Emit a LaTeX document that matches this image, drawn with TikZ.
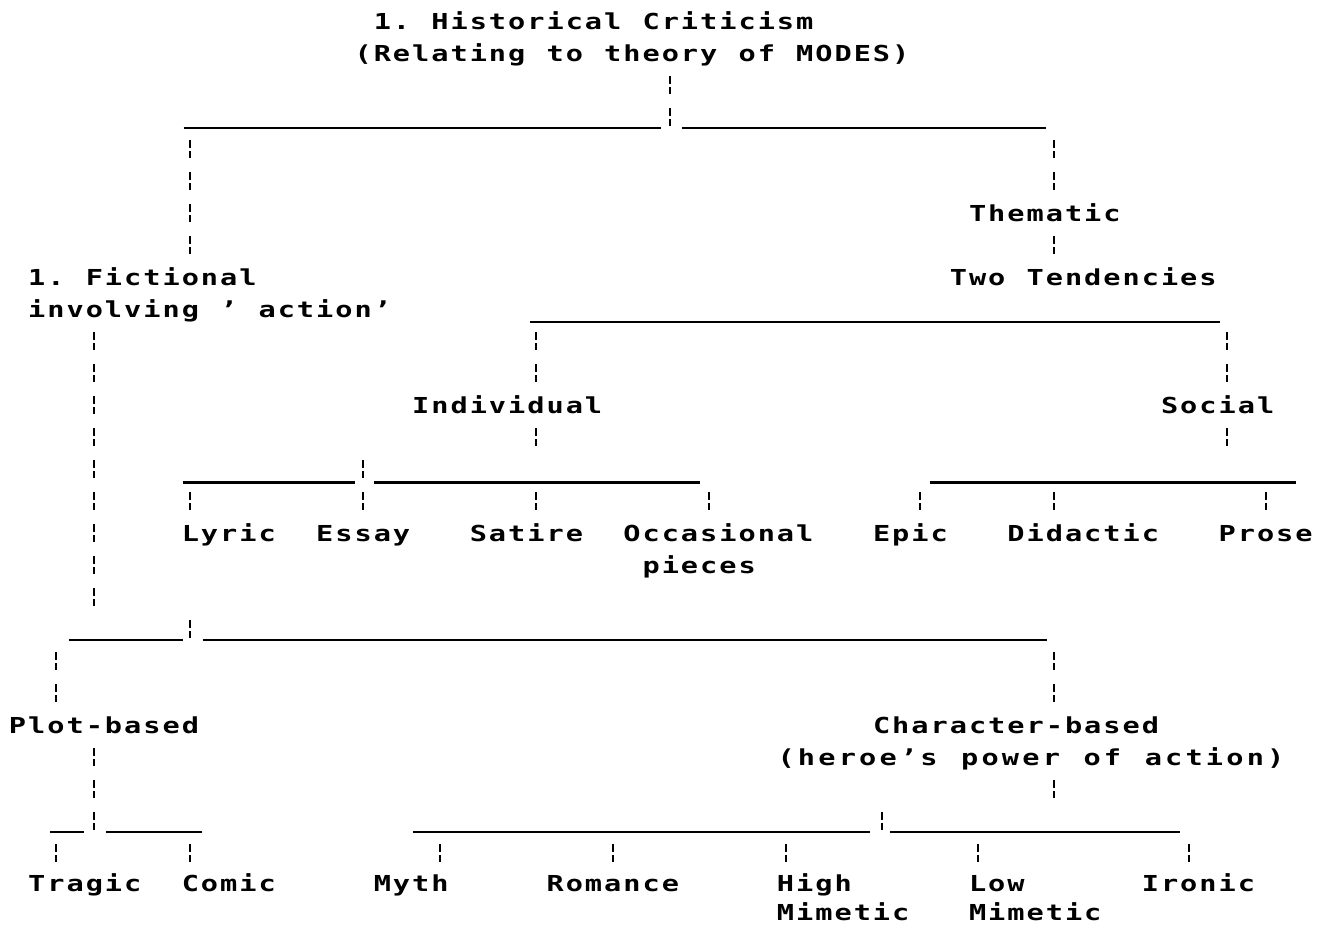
\documentclass[tikz,border=0pt]{standalone}
\usepackage{graphicx}
\usepackage{fontspec}
\newfontfamily\dotfont{DejaVu Sans Mono}
\ExplSyntaxOn
\NewDocumentCommand\dottext{O{19.2pt}m}{\str_map_inline:nn{#2}{\makebox[#1][c]{\scalebox{1.3}[1]{##1}}}}
\ExplSyntaxOff
% vertical "!" marks: name, column, first row, last row
\newcommand\dotbang[4]{%
  \coordinate (#1a) at (#2+0.5,#3-0.28);
  \coordinate (#1b) at (#2+0.5,#4+0.28);
  \draw[bangline] (#1a) -- (#1b);}
% underscore rules: name, x1, x2, y
\newcommand\dotrule[4]{%
  \coordinate (#1a) at (#2,#4);
  \coordinate (#1b) at (#3,#4);
  \draw[ruleline] (#1a) -- (#1b);}
\begin{document}
\begin{tikzpicture}[x=19.2pt,y=-32pt,
  lbl/.style={inner sep=0pt, outer sep=0pt, anchor=base west, font=\fontsize{22pt}{26pt}\dotfont\bfseries},
  bangline/.style={line width=2pt, dash pattern=on 8pt off 3pt on 7pt off 14pt},
  ruleline/.style={line width=2.2pt}]
\path[use as bounding box, fill=white] (-0.416667,-0.65625) rectangle (68.59375,28.3125);

% ---- text ----
\node[lbl] (title)  at (19,0.25) {\dottext{1. Historical Criticism}};
\node[lbl] (title2) at (18,1.25) {\dottext{(Relating to theory of MODES)}};
\node[lbl] (them)   at (50,6.25) {\dottext{Thematic}};
\node[lbl] (two)    at (49,8.25) {\dottext{Two Tendencies}};
\node[lbl] (fict)   at (1,8.25)  {\dottext{1. Fictional}};
\node[lbl] (fict2)  at (1,9.25)  {\dottext{involving ’ action’}};
\node[lbl] (indiv)  at (21,12.25) {\dottext{Individual}};
\node[lbl] (social) at (60,12.25) {\dottext{Social}};
\node[lbl] (lyric)  at (9,16.25)  {\dottext{Lyric}};
\node[lbl] (essay)  at (16,16.25) {\dottext{Essay}};
\node[lbl] (satire) at (24,16.25) {\dottext{Satire}};
\node[lbl] (occ)    at (32,16.25) {\dottext{Occasional}};
\node[lbl] (occ2)   at (33,17.25) {\dottext{pieces}};
\node[lbl] (epic)   at (45,16.25) {\dottext{Epic}};
\node[lbl] (didac)  at (52,16.25) {\dottext{Didactic}};
\node[lbl] (prose)  at (63,16.25) {\dottext{Prose}};
\node[lbl] (plot)   at (0,22.25)  {\dottext{Plot-based}};
\node[lbl] (char)   at (45,22.25) {\dottext{Character-based}};
\node[lbl] (char2)  at (40,23.25) {\dottext[20.4pt]{(heroe’s power of action)}};
\node[lbl] (tragic) at (1,27.2)  {\dottext{Tragic}};
\node[lbl] (comic)  at (9,27.2)  {\dottext{Comic}};
\node[lbl] (myth)   at (19,27.2) {\dottext{Myth}};
\node[lbl] (romance) at (28,27.2) {\dottext{Romance}};
\node[lbl] (high)   at (40,27.2) {\dottext{High}};
\node[lbl] (high2)  at (40,28.1) {\dottext{Mimetic}};
\node[lbl] (low)    at (50,27.2) {\dottext{Low}};
\node[lbl] (low2)   at (50,28.1) {\dottext{Mimetic}};
\node[lbl] (ironic) at (59,27.2) {\dottext{Ironic}};

% ---- underscore rules ----
\dotrule{ra}{9.15}{34.0}{3.34}
\dotrule{rb}{35.1}{54.05}{3.34}
\dotrule{rc}{27.2}{63.1}{9.40}
\dotrule{rd}{9.1}{18.05}{14.42}
\dotrule{re}{19.05}{36.05}{14.42}
\dotrule{rf}{48.0}{67.1}{14.42}
\dotrule{rg}{3.2}{9.1}{19.34}
\dotrule{rh}{10.15}{54.1}{19.34}
\dotrule{ri}{2.2}{3.95}{25.34}
\dotrule{rj}{5.1}{10.1}{25.34}
\dotrule{rk}{21.1}{44.9}{25.34}
\dotrule{rl}{45.95}{61.05}{25.34}

% ---- vertical marks ----
\dotbang{va}{34}{2}{3}
\dotbang{vb}{9}{4}{7}
\dotbang{vc}{54}{4}{5}
\dotbang{vd}{54}{7}{7}
\dotbang{ve}{4}{10}{18}
\dotbang{vf}{27}{10}{11}
\dotbang{vg}{63}{10}{11}
\dotbang{vh}{27}{13}{13}
\dotbang{vi}{63}{13}{13}
\dotbang{vj}{18}{14}{15}
\dotbang{vk}{9}{15}{15}
\dotbang{vl}{27}{15}{15}
\dotbang{vm}{36}{15}{15}
\dotbang{vn}{47}{15}{15}
\dotbang{vo}{54}{15}{15}
\dotbang{vp}{65}{15}{15}
\dotbang{vq}{9}{19}{19}
\dotbang{vr}{2}{20}{21}
\dotbang{vs}{54}{20}{21}
\dotbang{vt}{4}{23}{25}
\dotbang{vu}{54}{24}{24}
\dotbang{vv}{45}{25}{25}
\dotbang{vw}{2}{26}{26}
\dotbang{vx}{9}{26}{26}
\dotbang{vy}{22}{26}{26}
\dotbang{vz}{31}{26}{26}
\dotbang{wa}{40}{26}{26}
\dotbang{wb}{50}{26}{26}
\dotbang{wc}{61}{26}{26}
\end{tikzpicture}
\end{document}
